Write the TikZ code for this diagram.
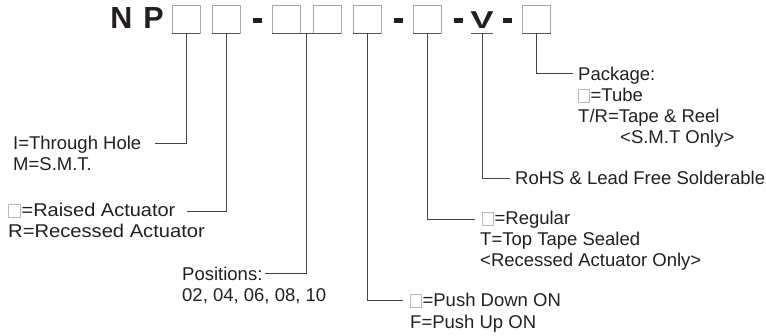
\documentclass[tikz,border=0pt]{standalone}
\usepackage{fontspec}
\setmainfont{Liberation Sans}
\usetikzlibrary{calc}
\definecolor{ink}{HTML}{231F20}
\newcommand{\sqicon}{{\color{gray!55}\fboxrule=0.7pt\fboxsep=0pt\fbox{\rule{0pt}{12.5pt}\hspace{10.5pt}}}\hspace{0.5pt}}
\tikzset{
  bx/.style={draw=gray!70, line width=0.9pt, minimum width=28pt, minimum height=28pt, inner sep=0pt},
  bot/.style={draw=ink!75, line width=1.3pt},
  conn/.style={draw=ink!85, line width=0.85pt},
  lab/.style={anchor=base west, inner sep=0pt, text=ink, font=\fontsize{18.5}{21}\selectfont},
  big/.style={anchor=base, inner sep=0pt, text=ink, font=\bfseries\fontsize{30.5}{31}\selectfont},
  dsh/.style={fill=ink, minimum width=9pt, minimum height=5pt, inner sep=0pt}
}
\begin{document}
\begin{tikzpicture}[x=1pt,y=-1pt]
\useasboundingbox (0,0) rectangle (766,336);
% title letters
\node[big] (nN) at (121.5,29) {N};
\node[big] (nP) at (153.5,29) {P};
% boxes
\node[bx] (b1) at (186,19) {};
\node[bx] (b2) at (226,19) {};
\node[bx] (b3) at (286,19) {};
\node[bx] (b4) at (327,19) {};
\node[bx] (b5) at (367,19) {};
\node[bx] (b6) at (427,19) {};
\node[bx] (b7) at (536.5,19) {};
\foreach \b in {b1,b2,b5,b6,b7} {\draw[bot] (\b.south west) -- (\b.south east);}
\draw[bot] (b3.south west) -- (b4.south east);
% dashes
\node[dsh] (d1) at (257.8,20.8) {};
\node[dsh] (d2) at (398.4,20.8) {};
\node[dsh] (d3) at (458.7,20.8) {};
\node[dsh] (d4) at (507.8,20.8) {};
% V
\node[big] (v) at (482,28.8) {\scalebox{1.15}[0.8]{V}};
\coordinate (vl) at (471,33.3);
\coordinate (vr) at (493,33.3);
\draw[bot] (vl) -- (vr);
\coordinate (vu) at ($(vl)!0.5!(vr)$);
\coordinate (j34) at ($(b3.south east)!0.5!(b4.south west)$);
% connector ends
\coordinate (c1) at (155,143);
\coordinate (c2) at (187,211);
\coordinate (c3) at (265,273);
\coordinate (c4) at (403,300);
\coordinate (c5) at (475,219);
\coordinate (c6) at (510,178);
\coordinate (c7) at (573,73);
\draw[conn] (b1.south) |- (c1);
\draw[conn] (b2.south) |- (c2);
\draw[conn] (j34) |- (c3);
\draw[conn] (b5.south) |- (c4);
\draw[conn] (b6.south) |- (c5);
\draw[conn] (vu) |- (c6);
\draw[conn] (b7.south) |- (c7);
% labels
\node[lab] (t1a) at (13,150) {I=Through Hole};
\node[lab] (t1b) at (13,171) {M=S.M.T.};
\node[lab] (t2a) at (8,217) {\scalebox{1.08}[1]{\sqicon=Raised Actuator}};
\node[lab] (t2b) at (8,238) {\scalebox{1.09}[1]{R=Recessed Actuator}};
\node[lab] (t3a) at (182,281) {Positions:};
\node[lab] (t3b) at (182,302) {02, 04, 06, 08, 10};
\node[lab] (t4a) at (410,307) {\sqicon=Push Down ON};
\node[lab] (t4b) at (410,329) {F=Push Up ON};
\node[lab] (t5a) at (482,225) {\sqicon=Regular};
\node[lab] (t5b) at (480,246) {T=Top Tape Sealed};
\node[lab] (t5c) at (480,267) {<Recessed Actuator Only>};
\node[lab] (t6) at (515,185) {RoHS \& Lead Free Solderable};
\node[lab] (t7a) at (578,81) {Package:};
\node[lab] (t7b) at (578,102) {\sqicon=Tube};
\node[lab] (t7c) at (578,123) {T/R=Tape \& Reel};
\node[lab] (t7d) at (620,144) {<S.M.T Only>};
\end{tikzpicture}
\end{document}
